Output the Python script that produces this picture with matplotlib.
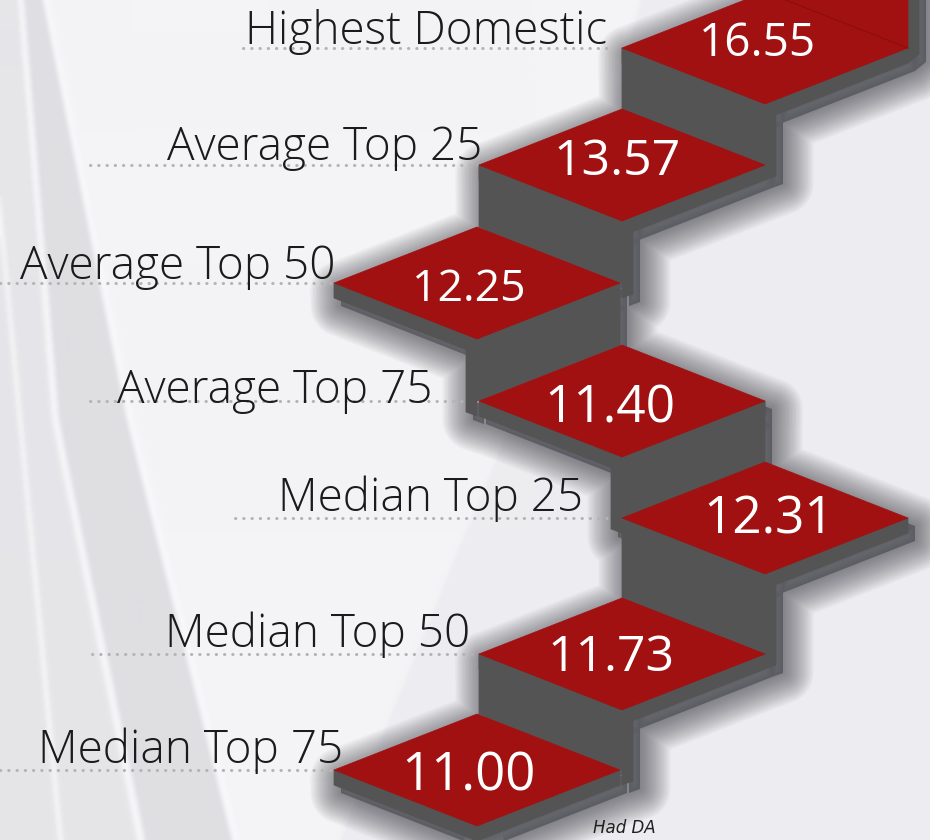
import numpy as np
import matplotlib.pyplot as plt
from matplotlib.colors import to_rgb
from matplotlib.patches import Polygon, PathPatch
from matplotlib.path import Path

labels = ["Highest Domestic", "Average Top 25", "Average Top 50", "Average Top 75",
          "Median Top 25", "Median Top 50", "Median Top 75"]
values = [16.55, 13.57, 12.25, 11.40, 12.31, 11.73, 11.00]

# staircase layout, in pixels (y grows downward)
step_col = [2, 1, 0, 1, 2, 1, 0]
col_x = [477, 622, 765]
row_y = [48, 165, 283, 401, 518, 654, 770]
label_right = [607, 482, 335, 432, 583, 470, 343]
label_base = [44, 160, 279, 403, 511, 647, 763]
dots_start = [243, 90, 0, 90, 235, 92, 0]
value_size = [33, 36, 32, 37, 37, 36, 38]
value_dx = [-8, -5, -8, -12, 4, -11, -9]
value_dy = [-8, -8, 2, 3, -3, -1, 2]

HW, HH, T = 143, 56, 15
RED = "#a11111"
GREY = "#545454"
W, H = 930, 840


def diamond(cx, cy):
    return [(cx - HW, cy), (cx, cy - HH), (cx + HW, cy), (cx, cy + HH)]


grey_polys = []
red_polys = []
centres = [(col_x[c], y) for c, y in zip(step_col, row_y)]

for i, (cx, cy) in enumerate(centres):
    L, Tp, R, B = diamond(cx, cy)
    grey_polys.append([L, B, R, (R[0], R[1] + T), (B[0], B[1] + T), (L[0], L[1] + T)])
    if i == 0:
        red_polys.append([L, (L[0] + (cy + 20) * HW / HH, -20), (R[0], -20), R, B])
        grey_polys.append([(R[0], -20), (R[0] + 11, -20), (R[0] + 11, R[1] + 6), (R[0], R[1] + T)])
    else:
        red_polys.append([L, Tp, R, B])

for i in range(len(centres) - 1):
    (xi, yi), (xj, yj) = centres[i], centres[i + 1]
    if xj < xi:
        grey_polys.append([(xi - HW, yi), (xi, yi + HH), (xi, yj), (xi - HW, yj - HH)])
        grey_polys.append([(xi, yi + HH), (xi + 11, yi + HH - 4), (xi + 11, yj + T - 4), (xi, yj + T)])
    else:
        grey_polys.append([(xi, yi + HH), (xi + HW, yi), (xi + HW, yj - HH), (xi, yj)])
        grey_polys.append([(xi - 11, yi + HH - 4), (xi, yi + HH), (xi, yj + T), (xi - 11, yj + T - 4)])

# raster background with pale diagonal streaks
xs = np.arange(W) + 0.5
ys = np.arange(H) + 0.5
X, Y = np.meshgrid(xs, ys)
pts = np.column_stack([X.ravel(), Y.ravel()])


def inside(poly):
    return Path(poly).contains_points(pts).reshape(H, W)


def blur1d(a, r, axis):
    a = np.moveaxis(a, axis, -1)
    p = np.pad(a, [(0, 0), (r + 1, r)], mode="edge")
    c = np.cumsum(p, axis=-1)
    out = (c[:, 2 * r + 1:] - c[:, :-2 * r - 1]) / (2 * r + 1)
    return np.moveaxis(out, -1, axis)


bg = np.zeros((H, W, 3))
bg[:] = to_rgb("#ededf1")
streaks = [
    ([(40, 0), (640, 0), (560, 300), (340, 840), (235, 840), (130, 420)], "#f4f4f6"),
    ([(-30, 0), (20, 0), (55, 420), (140, 840), (-30, 840)], "#e6e6e9"),
    ([(22, 0), (45, 0), (130, 420), (235, 840), (140, 840), (55, 420)], "#dfdfe3"),
    ([(18, 0), (24, 0), (59, 420), (145, 840), (137, 840), (52, 420)], "#f6f6f8"),
    ([(43, 0), (49, 0), (134, 420), (240, 840), (232, 840), (127, 420)], "#f8f8fa"),
    ([(-6, 170), (-2, 170), (63, 840), (58, 840)], "#f6f6f8"),
]
for poly, col in streaks:
    bg[inside(poly)] = to_rgb(col)
for k in range(3):
    for _ in range(2):
        bg[..., k] = blur1d(blur1d(bg[..., k], 2, 0), 2, 1)

fig = plt.figure(figsize=(9.3, 8.4), dpi=100)
ax = fig.add_axes([0, 0, 1, 1])
ax.imshow(bg, extent=(0, W, H, 0), zorder=0, aspect="auto", interpolation="nearest")
ax.set_xlim(0, W)
ax.set_ylim(H, 0)
ax.axis("off")


# soft shadow: one compound outline of the stairs, stroked in many faint layers
def ccw(poly):
    a = np.array(poly, dtype=float)
    area = np.sum(a[:, 0] * np.roll(a[:, 1], -1) - np.roll(a[:, 0], -1) * a[:, 1])
    return a if area > 0 else a[::-1]


subpaths = []
for p in grey_polys + red_polys:
    a = ccw(p) + [7, 8]
    subpaths.append(Path(np.vstack([a, a[:1]]), closed=True))
outline = Path.make_compound_path(*subpaths)
ax.add_patch(PathPatch(outline, facecolor="#3c3c44", edgecolor="none", alpha=0.5, zorder=1))
for lw in np.linspace(44, 2, 22):
    ax.add_patch(PathPatch(outline, facecolor="none", edgecolor="#3c3c44", lw=lw,
                           alpha=0.035, joinstyle="round", zorder=1))

# dotted leader lines
for i, (cx, cy) in enumerate(centres):
    ax.plot([dots_start[i], cx - HW], [cy, cy], color="#b4b4b4", lw=2.2,
            linestyle=(0, (0.1, 2.6)), dash_capstyle="round", zorder=2)

for p in grey_polys:
    ax.add_patch(Polygon(p, closed=True, facecolor=GREY, edgecolor=GREY, lw=0.5, zorder=3))
for p in red_polys:
    ax.add_patch(Polygon(p, closed=True, facecolor=RED, edgecolor=RED, lw=0.5, zorder=4))

cx0, cy0 = centres[0]
ax.plot([cx0, cx0 + HW], [cy0 - HH, cy0], color="#8c0d0d", lw=0.8, zorder=4)

for i, (cx, cy) in enumerate(centres):
    size_px = value_size[i] / 0.72
    ax.text(cx + value_dx[i], cy + value_dy[i] + 0.357 * size_px, f"{values[i]:.2f}",
            ha="center", va="baseline", fontsize=value_size[i], color="white",
            family=["Open Sans", "DejaVu Sans"], zorder=5)
    ax.text(label_right[i], label_base[i], labels[i], ha="right", va="baseline",
            fontsize=33, color="#1b1b1b", family=["Open Sans", "DejaVu Sans"],
            fontweight="light", zorder=5)

ax.text(593, 837, "Had DA", ha="left", va="bottom", fontsize=12, fontstyle="italic",
        color="#202020", zorder=5)

ax.set_xlim(0, W)
ax.set_ylim(H, 0)
fig.savefig("out.png", dpi=100)
